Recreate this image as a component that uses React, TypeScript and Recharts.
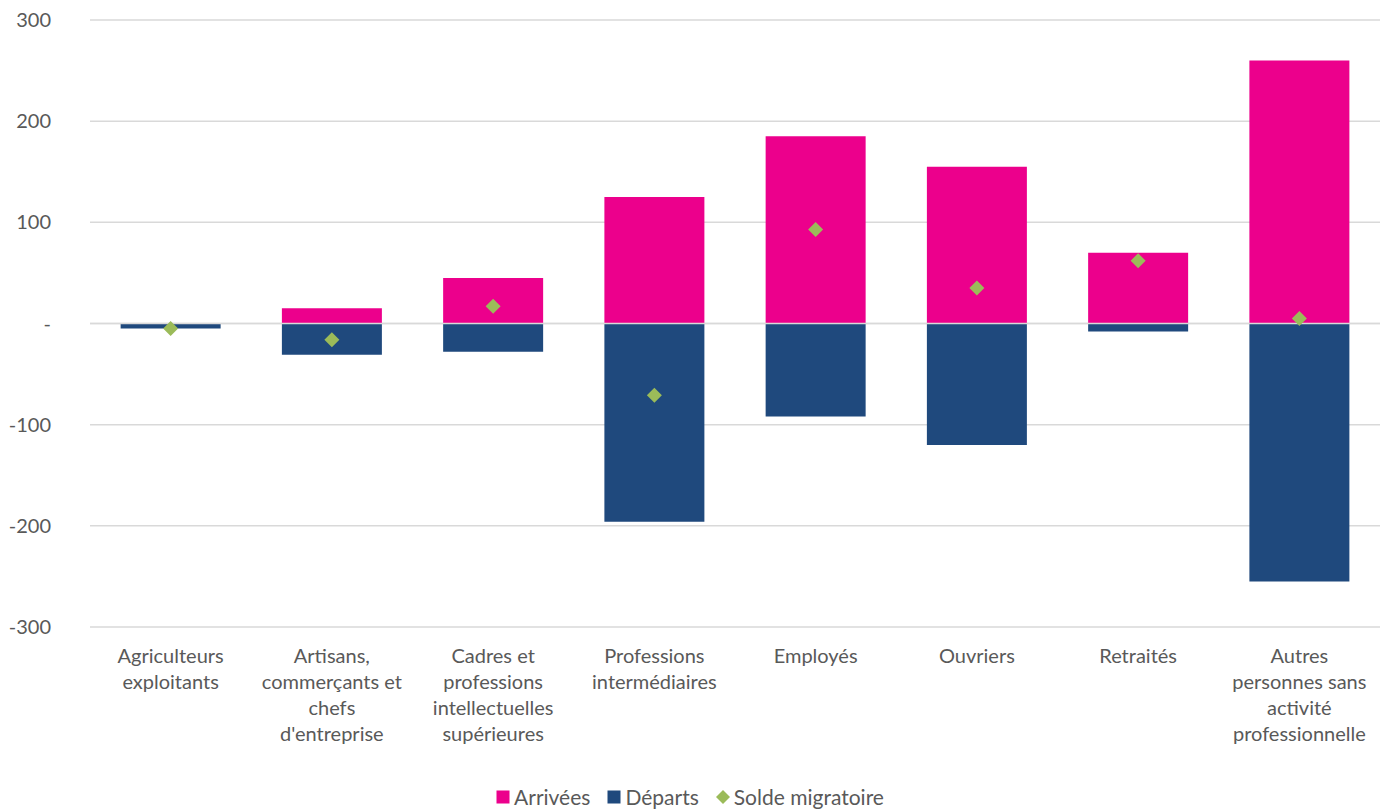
import React from "react";
import {
  ComposedChart,
  Bar,
  Line,
  XAxis,
  YAxis,
  CartesianGrid,
  Legend,
  ReferenceLine,
} from "recharts";

const categories = [
  "Agriculteurs\nexploitants",
  "Artisans,\ncommerçants et\nchefs\nd'entreprise",
  "Cadres et\nprofessions\nintellectuelles\nsupérieures",
  "Professions\nintermédiaires",
  "Employés",
  "Ouvriers",
  "Retraités",
  "Autres\npersonnes sans\nactivité\nprofessionnelle",
];
const arrivees = [0, 15, 45, 125, 185, 155, 70, 260];
const departs = [-5, -31, -28, -196, -92, -120, -8, -255];
const solde = [-5, -16, 17, -71, 93, 35, 62, 5];
const yTicks = [-300, -200, -100, 0, 100, 200, 300];

const data = categories.map((c, i) => ({
  category: c,
  arrivees: arrivees[i],
  departs: departs[i],
  solde: solde[i],
}));

const FONT = "Lato, 'Open Sans', sans-serif";
const TEXT = "#595959";
const PINK = "#EC008C";
const NAVY = "#1F497D";
const GREEN = "#9BBB59";

const CategoryTick = ({ x, y, payload }: any) => {
  const lines = String(payload.value).split("\n");
  return (
    <text x={x} y={y} textAnchor="middle" fill={TEXT} fontSize={20} fontFamily={FONT}>
      {lines.map((l, i) => (
        <tspan key={i} x={x} dy={i === 0 ? 28 : 26}>
          {l}
        </tspan>
      ))}
    </text>
  );
};

const Diamond = ({ cx, cy }: any) => {
  if (cx == null || cy == null) return null;
  const r = 7.5;
  return (
    <polygon
      points={`${cx},${cy - r} ${cx + r},${cy} ${cx},${cy + r} ${cx - r},${cy}`}
      fill={GREEN}
    />
  );
};

const LegendContent = ({ payload }: any) => (
  <div
    style={{
      display: "flex",
      justifyContent: "center",
      gap: 17,
      fontFamily: FONT,
      fontSize: 21,
      color: TEXT,
      lineHeight: "24px",
    }}
  >
    {(payload || []).map((p: any) => (
      <div key={p.value} style={{ display: "flex", alignItems: "center", gap: 4 }}>
        <svg width={14} height={14}>
          {p.type === "diamond" ? (
            <polygon points="7,0 14,7 7,14 0,7" fill={p.color} />
          ) : (
            <rect x={0.5} y={0.5} width={13} height={13} fill={p.color} />
          )}
        </svg>
        <span>{p.value}</span>
      </div>
    ))}
  </div>
);

export default function App() {
  return (
    <div style={{ width: 1380, height: 809, background: "#fff" }}>
      <style>{"body{margin:0}"}</style>
      <ComposedChart
        width={1380}
        height={809}
        data={data}
        stackOffset="sign"
        barCategoryGap="19%"
        margin={{ top: 20, right: 0, left: 0, bottom: 0 }}
      >
        <CartesianGrid vertical={false} stroke="#D9D9D9" strokeWidth={1.5} />
        <XAxis
          dataKey="category"
          axisLine={false}
          tickLine={false}
          interval={0}
          height={158}
          tick={<CategoryTick />}
        />
        <YAxis
          domain={[-300, 300]}
          ticks={yTicks}
          width={90}
          axisLine={false}
          tickLine={false}
          tickSize={0}
          tickMargin={39}
          tick={{ fill: TEXT, fontSize: 20, fontFamily: FONT }}
          tickFormatter={(v) => (v === 0 ? "-" : String(v))}
        />
        <ReferenceLine y={0} stroke="#D9D9D9" strokeWidth={1.5} />
        <Bar dataKey="arrivees" name="Arrivées" stackId="s" fill={PINK} legendType="square" isAnimationActive={false} />
        <Bar dataKey="departs" name="Départs" stackId="s" fill={NAVY} legendType="square" isAnimationActive={false} />
        <Line
          dataKey="solde"
          name="Solde migratoire"
          stroke={GREEN}
          strokeWidth={0}
          legendType="diamond"
          dot={<Diamond />}
          activeDot={false}
          isAnimationActive={false}
        />
        <Legend verticalAlign="bottom" content={<LegendContent />} />
      </ComposedChart>
    </div>
  );
}
